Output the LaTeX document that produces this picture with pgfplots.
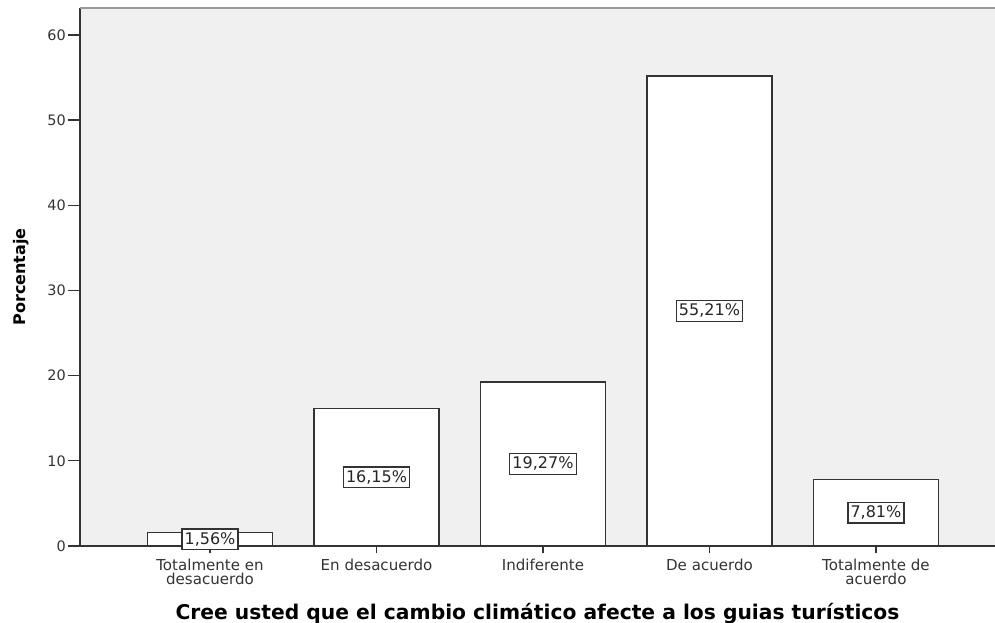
\documentclass[border=0pt]{standalone}
\usepackage{pgfplots}
\pgfplotsset{compat=1.18}
\usepackage{fontspec}
\setmainfont{DejaVu Sans}
\newfontfamily\dejab{DejaVu Sans}
\definecolor{bgc}{HTML}{F0F0F0}
\definecolor{axc}{HTML}{333333}
\begin{document}
\begin{tikzpicture}[x=0.75pt,y=0.75pt]
\begin{axis}[
  scale only axis,
  width=686.25pt, height=403.5pt,
  xmin=-0.781, xmax=4.715,
  ymin=0, ymax=63.17,
  axis x line*=bottom, axis y line*=left,
  axis line style={axc, line width=1.1pt, -},
  axis background/.style={fill=bgc},
  ybar, bar width=0.75,
  bar shift=0pt,
  ytick={0,10,20,30,40,50,60},
  xtick={0,1,2,3,4},
  xticklabels={{Totalmente en\\desacuerdo},{En desacuerdo},{Indiferente},{De acuerdo},{Totalmente de\\acuerdo}},
  tick align=outside,
  major tick length=9pt,
  xtick style={/pgfplots/major tick length=5.5pt, axc, line width=1pt},
  ytick style={axc, line width=1pt},
  tick label style={text=black!80},
  yticklabel style={font=\fontsize{10.8}{11}\selectfont, inner sep=1.5pt},
  xticklabel style={font=\fontsize{11.3}{10.4}\selectfont, align=center, inner sep=1pt, yshift=0.5pt},
  /pgf/number format/assume math mode=true,
  xlabel={\dejab\bfseries\fontsize{15.2}{17}\selectfont Cree usted que el cambio climático afecte a los guias turísticos},
  ylabel={\dejab\bfseries\fontsize{12}{14}\selectfont Porcentaje},
  xlabel style={yshift=-9.5pt},
  ylabel style={yshift=8.5pt},
  point meta=explicit symbolic,
  visualization depends on=y \as \rawy,
  nodes near coords={\pgfplotspointmeta},
  every node near coord/.append style={anchor=center, shift={(axis direction cs:0,-\rawy/2)},
    draw=axc, line width=1pt, fill=white, inner xsep=2pt, inner ysep=2.6pt, font=\fontsize{12}{13}\selectfont, text=black!85},
]
\addplot[draw=axc, line width=1.1pt, fill=white] table[meta=lab] {
x y lab
0 1.56 1,56\%
1 16.15 16,15\%
2 19.27 19,27\%
3 55.21 55,21\%
4 7.81 7,81\%
};
\end{axis}
\draw[gray!80, line width=1.3pt] (current axis.north west) -- (current axis.north east);
\pgfresetboundingbox
\path ([xshift=-60pt,yshift=-57.75pt]current axis.south west) rectangle ([yshift=6pt]current axis.north east);
\end{tikzpicture}
\end{document}
